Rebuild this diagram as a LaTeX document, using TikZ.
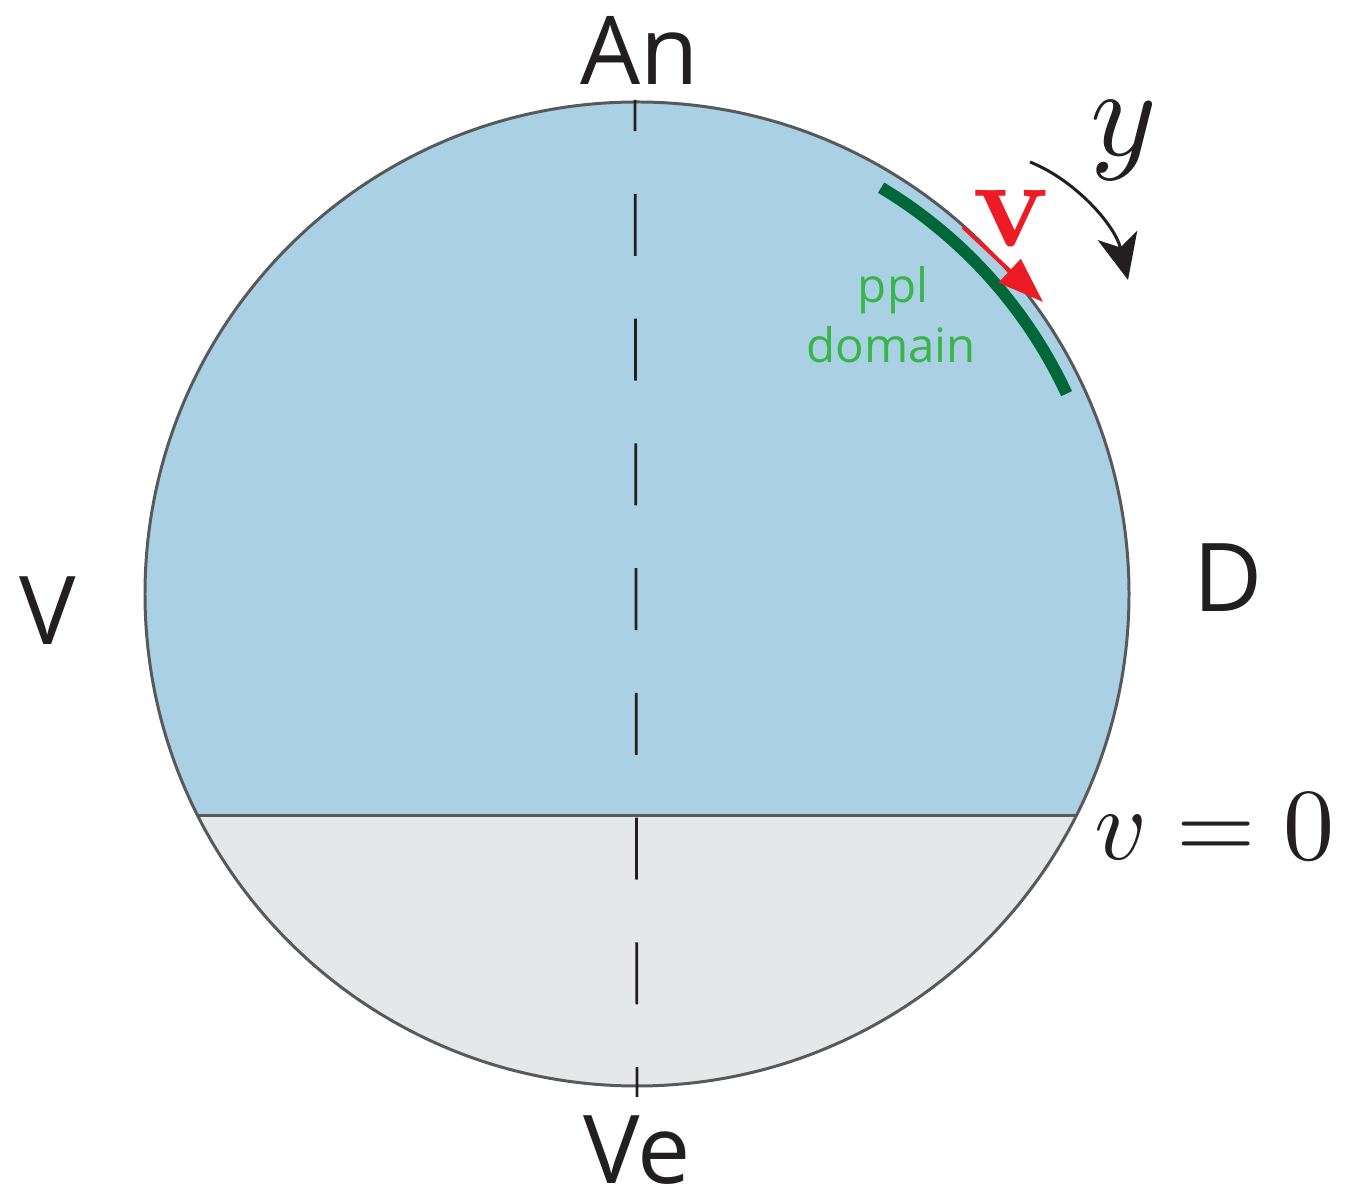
\documentclass[tikz,border=0pt]{standalone}
\usepackage[no-math]{fontspec}
\newfontfamily\lab{Open Sans}
\usetikzlibrary{arrows.meta}
\definecolor{bluefill}{RGB}{169,208,227}
\definecolor{grayfill}{RGB}{230,231,232}
\definecolor{outline}{RGB}{88,89,91}
\definecolor{ink}{RGB}{35,31,32}
\definecolor{dgreen}{RGB}{0,104,56}
\definecolor{lgreen}{RGB}{57,181,74}
\definecolor{vred}{RGB}{237,28,36}
\tikzset{
  biglabel/.style={font=\lab\fontsize{27}{32}\selectfont, text=ink, anchor=base, inner sep=0pt},
  greenlabel/.style={font=\lab\fontsize{13.5}{16}\selectfont, text=lgreen, anchor=base, inner sep=0pt},
  mathlabel/.style={text=ink, anchor=base, inner sep=0pt},
  rim/.style={draw=outline, line width=0.85pt}
}
\begin{document}
\begin{tikzpicture}[x=0.01cm,y=-0.01cm]
\useasboundingbox (0,0) rectangle (1345,1195);
\coordinate (c) at (637,594);
\coordinate (chL) at (198,816);
\coordinate (chR) at (1076,816);
% fills
\fill[grayfill] (c) circle (492);
\begin{scope}
  \clip (0,0) rectangle (1345,816);
  \fill[bluefill] (c) circle (492);
\end{scope}
\draw[rim] (chL) -- (chR);
\draw[rim] (c) circle (492);
% dashed axis
\coordinate (axT) at (635,100);
\coordinate (axB) at (637,1097);
\draw[ink, line width=0.75pt, dash pattern=on 17.64pt off 17.84pt, dash phase=8.8pt] (axT) -- (axB);
% ppl domain arc
\draw[dgreen, line width=3.4pt] (c) ++(-59:474) arc[start angle=-59, end angle=-25, radius=474];
% red arrow
\coordinate (rs) at (963,227);
\coordinate (re) at (1043,302);
\draw[vred, line width=1.1pt, -{Triangle[length=13pt,width=9pt]}] (rs) -- (re);
% black curved arrow
\coordinate (bs) at (1030,162);
\coordinate (be) at (1128,280);
\draw[ink, line width=0.85pt, -{Stealth[length=13pt,width=11.5pt,inset=3.5pt]}] (bs) .. controls (1075,180) and (1115,225) .. (be);
% labels
\node[biglabel] (an) at (640,85) {An};
\node[biglabel] (ve) at (637,1184) {Ve};
\node[biglabel] (vl) at (48,645) {V};
\node[biglabel] (dl) at (1228,612) {D};
\node[greenlabel] (ppl) at (893,303) {ppl};
\node[greenlabel] (dom) at (891,363) {domain};
\node[mathlabel, scale=3.6] (ylab) at (1124,156) {$y$};
\node[mathlabel, scale=3.6, text=vred] (vlab) at (1012,247) {$\mathbf{v}$};
\node[mathlabel, scale=2.9] (v0) at (1215,860) {$v = 0$};
\end{tikzpicture}
\end{document}
